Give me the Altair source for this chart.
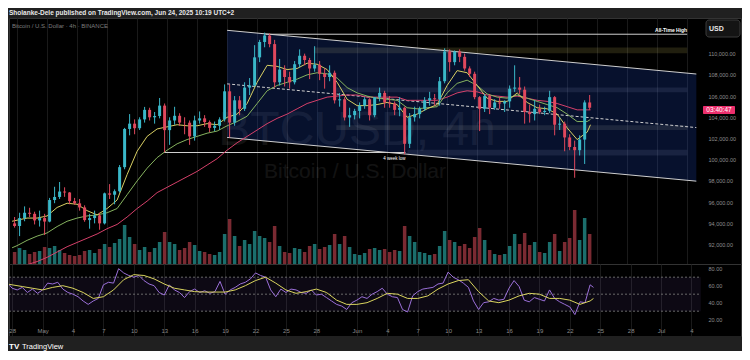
import altair as alt
import numpy as np
import pandas as pd

# ---------------- data ----------------
# 12-hour candles starting 2025-04-27 12:00 UTC
opens = [94000,93750,94500,95000,94900,94280,94500,94170,96200,96490,
         97000,96910,96100,95890,95500,94310,94500,94750,94000,96830,
         96700,97030,99300,102900,103400,102970,103800,104700,104000,104120,
         105100,102790,103700,104140,103500,103490,102200,103700,103900,103550,
         103000,103200,103800,106450,103500,105600,104800,106800,107000,109650,
         111100,111700,110900,107300,108500,107800,107300,109000,109800,109400,
         108600,108950,108100,107800,108200,105600,105700,103980,104200,104600,
         105100,105700,104200,105880,106300,105400,105300,104700,104900,101500,
         104000,104300,104800,105600,105800,105700,107400,110200,109200,110200,
         109700,108600,108100,105900,104800,106000,104900,105400,105300,105500,
         106700,106800,106600,104500,104300,104800,104500,104600,105900,103300,
         103400,102100,101200,100900,101900,105400]
highs = [94600,95000,95600,95470,95100,95200,94900,96400,97450,97900,
         97400,96950,96400,96300,95700,94900,95200,95000,96900,97700,
         97200,99500,103000,104300,103800,104000,104980,104900,104500,105820,
         105300,104000,104990,104380,104000,103700,104150,104550,104200,103700,
         103600,104000,107100,107100,106000,106000,107300,107700,110800,111300,
         111980,111900,111300,109500,108900,108300,109300,110400,110000,109600,
         110700,109300,108600,108900,108400,106300,105900,104900,104800,105400,
         105900,105800,105900,106800,106500,106000,105500,105900,105000,104400,
         105000,105000,105900,106400,106200,107800,110500,110400,110300,110400,
         110000,108800,108300,106000,106200,106200,105700,105900,105600,107000,
         108900,107800,106900,105200,105600,105200,105000,106500,106000,104000,
         103600,102400,101800,102300,105600,106100]
lows = [93600,92800,94200,94600,93900,93700,92900,94100,95900,96300,
        96500,95800,95750,95200,94150,93500,94000,93400,93900,96300,
        95800,96900,99100,102300,102400,102800,103500,103700,103400,103900,
        100700,101400,103300,103200,102400,101400,101800,103400,103100,102600,
        102700,102800,103600,102100,103200,104200,104600,106100,106900,109200,
        110600,110600,106800,107000,106900,106700,107100,108700,108900,107600,
        108300,107500,106700,107400,105300,105000,103700,103100,103800,103900,
        104800,103700,104000,105500,104900,104900,104200,104100,100500,101100,
        103600,103900,104600,105100,105100,105100,107200,108300,108900,109200,
        108400,107800,105700,102700,104500,104300,104700,104800,104500,104900,
        106400,106200,103400,103500,103700,104300,104200,104400,102300,102800,
        100800,100900,98300,100400,99600,104700]
closes = [93750,94500,95000,94900,94280,94500,94170,96200,96490,97000,
          96910,96100,95890,95500,94310,94500,94750,94000,96830,96700,
          97030,99300,102900,103400,102970,103800,104700,104000,104120,105100,
          102790,103700,104140,103500,103490,102200,103700,103900,103550,103000,
          103200,103800,106450,103500,105600,104800,106800,107000,109650,111100,
          111700,110900,107300,108500,107800,107300,109000,109800,109400,108600,
          108950,108100,107800,108200,105600,105700,103980,104200,104600,105100,
          105700,104200,105880,106300,105400,105300,104700,104900,101500,104000,
          104300,104800,105600,105800,105700,107400,110200,109200,110200,109700,
          108600,108100,105900,104800,106000,104900,105400,105300,105500,106700,
          106800,106600,104500,104300,104800,104500,104600,105900,103300,103400,
          102100,101200,100900,101900,105400,104900]
# relative volume (bar height as seen)
volumes = [12,16,14,10,12,13,17,16,18,14,
           11,9,8,9,13,14,11,15,20,17,
           21,25,39,27,20,14,17,12,16,22,
           32,22,20,14,16,22,19,13,12,10,
           9,12,30,45,28,18,24,20,33,28,
           26,22,38,18,12,11,16,15,12,18,
           20,15,17,19,30,20,28,17,10,9,
           11,15,16,14,15,12,14,13,38,28,
           22,12,11,9,10,18,33,24,22,18,
           20,16,27,36,24,14,10,9,10,18,
           30,20,31,19,22,12,11,22,30,13,
           22,26,54,24,46,30]
# RSI at each 12h step, plus the live bar
rsi_values = [64,57,55,58,52,56,51,55,63,62,
              64,56,52,50,47,42,38,42,45,61,
              64,63,80,75,72,70,72,66,62,60,
              52,49,61,55,52,46,53,56,52,54,
              51,53,65,50,55,58,62,64,68,75,
              72,70,55,47,56,52,56,55,52,51,
              55,49,50,46,42,38,36,32,40,43,
              47,45,50,53,57,50,47,46,32,29,
              48,53,56,57,58,62,63,76,70,67,
              63,58,42,32,40,41,45,43,44,57,
              66,59,43,41,46,44,42,55,45,41,
              38,35,26,41,40,61,58]
# daily samples: Apr 27 12h, Apr 28 .. Jun 24, Jun 24 08h
ema_fast = [94200,94300,94500,94500,
            94700,95500,95900,95800,95200,94800,95400,96200,98600,100800,
            102200,102900,103100,103300,103200,103200,103400,103300,104000,104300,
            105300,107300,108900,108800,108500,108600,109100,109000,108500,107300,105700,
            105100,105100,105200,105400,105200,104000,104300,104800,105200,107000,
            108400,108200,107000,105800,105500,105500,106300,105400,104900,104800,
            104300,103000,101900,102600,103300]
ema_mid = [91700,91900,92400,92800,
           93100,93700,94200,94500,94700,94800,95000,95400,96700,98000,
           99200,100200,100900,101500,101900,102200,102500,102700,103200,103600,
           104100,105300,106500,107000,107300,107600,108000,108200,108100,107700,106800,
           106300,106000,105800,105700,105600,104900,104800,104900,105000,106300,
           107200,107500,107000,106200,105900,105800,106100,105800,105500,105200,
           104900,104300,103600,103600,103800]
ema_slow = [89600,89800,90100,90400,
            90800,91300,91800,92200,92600,93000,93500,93900,94600,95400,
            96100,96900,97400,97900,98400,98900,99500,100100,100900,101600,
            102200,102800,103400,103900,104300,104800,105300,105600,105900,106000,106100,
            106100,105900,105900,105900,105900,105600,105600,105600,105600,105900,
            106300,106500,106400,106100,106000,105900,106000,105800,105600,105500,
            105300,105000,104700,104700,104700]
rsi_ma = [62,61,59,57,
          55,58,60,57,52,45,47,55,67,73,
          72,68,62,57,55,53,52.5,52.5,52.5,55,
          60,66,70,63,55,51,53,56,52,43,38,
          38,40,45,51,50,45,45,48,56,62,
          66,67,53,42,40,43,48,51,50,45,
          45,43,38,42,45]

price_ticks = [92000, 94000, 96000, 98000, 100000, 102000, 104000, 106000, 108000, 110000]
rsi_ticks = [20, 40, 60, 80]
tick_dates = ["2025-04-28", "2025-05-01", "2025-05-04", "2025-05-07", "2025-05-10", "2025-05-13",
              "2025-05-16", "2025-05-19", "2025-05-22", "2025-05-25", "2025-05-28", "2025-06-01",
              "2025-06-04", "2025-06-07", "2025-06-10", "2025-06-13", "2025-06-16", "2025-06-19",
              "2025-06-22", "2025-06-25", "2025-06-28", "2025-07-01", "2025-07-04"]

# drawings
channel_t = ["2025-05-19T00:00:00Z", "2025-07-04T22:00:00Z"]
channel_upper = [112200, 108080]
channel_lower = [102100, 97980]
channel_mid = [107150, 103030]
ath_t = ["2025-05-22T20:00:00Z", "2025-07-04T00:00:00Z"]
ath_price = 111830
low_t = ["2025-05-12T16:00:00Z", "2025-06-05T20:00:00Z"]
low_price = 100680
zone_start = ["2025-05-27T16:00:00Z", "2025-05-29T22:00:00Z", "2025-05-29T22:00:00Z", "2025-06-06T01:00:00Z"]
zone_end = ["2025-07-04T00:00:00Z"] * 4
zone_low = [110030, 106350, 102800, 100400]
zone_high = [110570, 106820, 103250, 100940]
zone_color = ["#fff176", "#b2b5be", "#d6d3a0", "#b2b5be"]

# ---------------- helpers ----------------
BG = "#202020"
UP, DOWN = "#3ab8c9", "#e0485d"
VUP, VDOWN = "#1b6e6c", "#7a2a32"
W = 732

def iso(ts):
    return ts.strftime("%Y-%m-%dT%H:%M:%SZ")

def ms(s):
    return int(pd.Timestamp(s).value // 10**6)

X0, X1 = "2025-04-27T16:34:00Z", "2025-07-08T21:10:00Z"
xs = alt.Scale(type="utc", domain=[ms(X0), ms(X1)])
tick_ms = [ms(d + "T00:00:00Z") for d in tick_dates]

xax_price = alt.Axis(values=tick_ms, labels=False, ticks=False, domain=False, grid=True,
                     gridColor="#1a1a1a", gridWidth=1, title=None)
xax_rsi = alt.Axis(values=tick_ms, ticks=False, tickSize=0, domain=False, grid=True,
                   gridColor="#1a1a1a", gridWidth=1, title=None,
                   labelExpr="utcdate(datum.value) == 1 ? utcFormat(datum.value, '%b') : utcFormat(datum.value, '%-d')",
                   labelPadding=-6, labelBaseline="middle", labelColor="#8a8a8a", labelFontSize=6,
                   labelFlush=False, labelOverlap=False)
ys = alt.Scale(domain=[90170, 113360], zero=False, nice=False)
yax_price = alt.Axis(orient="right", values=price_ticks, format=",.2f", labelAlign="left",
                     labelPadding=-33, ticks=False, tickSize=0, domain=False, grid=False,
                     title=None, labelColor="#8e8e8e", labelFontSize=5.5)
rs = alt.Scale(domain=[0.8, 85.5], zero=False, nice=False)
yax_rsi = alt.Axis(orient="right", values=rsi_ticks, format=".2f", labelAlign="left",
                   labelPadding=-33, ticks=False, tickSize=0, domain=False, grid=False,
                   title=None, labelColor="#8e8e8e", labelFontSize=5.5)

def X(f):
    return alt.X(f + ":T", scale=xs, axis=xax_price)

def XR(f):
    return alt.X(f + ":T", scale=xs, axis=xax_rsi)

def YP(f):
    return alt.Y(f + ":Q", scale=ys, axis=yax_price)

def YR(f):
    return alt.Y(f + ":Q", scale=rs, axis=yax_rsi)

one = pd.DataFrame({"a": [0]})

# ---------------- tables ----------------
t0 = pd.Timestamp("2025-04-27 12:00", tz="UTC")
n = len(opens)
cd = pd.DataFrame({
    "t": [iso(t0 + pd.Timedelta(hours=12 * i + 6)) for i in range(n)],
    "o": opens, "h": highs, "l": lows, "c": closes, "v": volumes,
})
up = np.array(closes) >= np.array(opens)
cd["col"] = np.where(up, UP, DOWN)
cd["vcol"] = np.where(up, VUP, VDOWN)

last_t = pd.Timestamp("2025-06-24 08:00", tz="UTC")
daily_t = [t0] + list(pd.date_range("2025-04-28", "2025-06-24", freq="D", tz="UTC")) + [last_t]
daily_iso = [iso(t) for t in daily_t]
ema_df = pd.concat([
    pd.DataFrame({"t": daily_iso, "p": ema_slow, "col": "#d6406a", "k": "slow"}),
    pd.DataFrame({"t": daily_iso, "p": ema_mid, "col": "#86b35f", "k": "mid"}),
    pd.DataFrame({"t": daily_iso, "p": ema_fast, "col": "#d8cf63", "k": "fast"}),
])
rsi_t = [iso(t0 + pd.Timedelta(hours=12 * i)) for i in range(n)] + [iso(last_t)]
rsi_df = pd.DataFrame({"t": rsi_t, "r": rsi_values})
rsima_df = pd.DataFrame({"t": daily_iso, "r": rsi_ma})

zones_df = pd.DataFrame({"t": zone_start, "t2": zone_end, "p": zone_low, "p2": zone_high, "col": zone_color})
chan_df = pd.DataFrame({"t": channel_t, "p": channel_upper, "p2": channel_lower})
lines_df = pd.concat([
    pd.DataFrame({"t": channel_t, "p": channel_upper, "k": "u"}),
    pd.DataFrame({"t": channel_t, "p": channel_lower, "k": "l"}),
    pd.DataFrame({"t": ath_t, "p": [ath_price] * 2, "k": "ath"}),
    pd.DataFrame({"t": low_t, "p": [low_price] * 2, "k": "low"}),
])
mid_df = pd.DataFrame({"t": channel_t, "p": channel_mid})

# ---------------- price pane ----------------
wm1 = alt.Chart(one).mark_text(text="BTCUSD, 4h", fontSize=48, color="#ffffff", opacity=0.07,
                               align="center", baseline="alphabetic").encode(x=alt.value(348), y=alt.value(127))
wm2 = alt.Chart(one).mark_text(text="Bitcoin / U.S. Dollar", fontSize=21, color="#ffffff", opacity=0.07,
                               align="center", baseline="alphabetic").encode(x=alt.value(346), y=alt.value(160))
zones = alt.Chart(zones_df).mark_rect(opacity=0.13).encode(
    x=X("t"), x2="t2", y=YP("p"), y2="p2", color=alt.Color("col:N", scale=None))
chan = alt.Chart(chan_df).mark_area(color="#2455e0", opacity=0.2).encode(x=X("t"), y=YP("p"), y2="p2")
lines = alt.Chart(lines_df).mark_line(color="#cfcfcf", strokeWidth=1).encode(x=X("t"), y=YP("p"), detail="k:N")
mid = alt.Chart(mid_df).mark_line(color="#cfcfcf", strokeWidth=1, strokeDash=[3, 2]).encode(x=X("t"), y=YP("p"))
emas = alt.Chart(ema_df).mark_line(strokeWidth=1, clip=True).encode(
    x=X("t"), y=YP("p"), color=alt.Color("col:N", scale=None), detail="k:N")
wicks = alt.Chart(cd).mark_rule(strokeWidth=1, clip=True).encode(
    x=X("t"), y=YP("l"), y2="h", color=alt.Color("col:N", scale=None))
bodies = alt.Chart(cd).mark_bar(size=3, clip=True).encode(
    x=X("t"), y=YP("o"), y2="c", color=alt.Color("col:N", scale=None))
ath_lbl = alt.Chart(pd.DataFrame({"t": [ath_t[1]], "p": [ath_price]})).mark_text(
    text="All-Time High", align="right", baseline="bottom", dy=-1, fontSize=5, fontWeight="bold",
    color="#ffffff").encode(x=X("t"), y=YP("p"))
low_lbl = alt.Chart(pd.DataFrame({"t": [low_t[1]], "p": [low_price]})).mark_text(
    text="4 week low", align="right", baseline="top", dy=3, fontSize=4.5, color="#ffffff").encode(
    x=X("t"), y=YP("p"))
legend = alt.Chart(one).mark_text(text="Bitcoin / U.S. Dollar · 4h · BINANCE", align="left",
                                  baseline="middle", fontSize=6, color="#7d7d7d").encode(
    x=alt.value(3), y=alt.value(8))
usd_box = alt.Chart(one).mark_rect(fill="#141414", stroke="#3a3a3a", strokeWidth=1, cornerRadius=3).encode(
    x=alt.value(697), x2=alt.value(731), y=alt.value(2), y2=alt.value(19))
usd_txt = alt.Chart(one).mark_text(text="USD", align="left", baseline="middle", fontSize=7,
                                   fontWeight="bold", color="#e6e6e6").encode(x=alt.value(700), y=alt.value(10.5))
pink_box = alt.Chart(one).mark_rect(fill="#ec2f6d", cornerRadius=1).encode(
    x=alt.value(694), x2=alt.value(726), y=alt.value(88), y2=alt.value(96))
pink_txt = alt.Chart(one).mark_text(text="03:40:47", align="center", baseline="middle", fontSize=6.5,
                                    color="#ffffff").encode(x=alt.value(710), y=alt.value(92))

price_main = alt.layer(wm1, wm2, zones, chan, lines, mid, emas, wicks, bodies,
                       ath_lbl, low_lbl, legend, usd_box, usd_txt, pink_box, pink_txt)
vol = alt.Chart(cd).mark_bar(size=3.5, clip=True).encode(
    x=X("t"), y=alt.Y("v:Q", scale=alt.Scale(domain=[0, 246]), axis=None),
    color=alt.Color("vcol:N", scale=None))
price_pane = alt.layer(vol, price_main).resolve_scale(y="independent").properties(
    width=W, height=246, view=alt.ViewBackground(fill="#000000", stroke="#333333", strokeWidth=1))

# ---------------- RSI pane ----------------
band = alt.Chart(pd.DataFrame({"t": [X0], "t2": [channel_t[1]], "r": [30], "r2": [70]})).mark_rect(
    color="#7e57c2", opacity=0.1).encode(x=XR("t"), x2="t2", y=YR("r"), y2="r2")
levels = alt.Chart(pd.DataFrame({"t": [X0] * 3, "t2": [channel_t[1]] * 3, "r": [70, 50, 30]})).mark_rule(
    color="#6a6a6a", strokeWidth=1, strokeDash=[2, 2]).encode(x=XR("t"), x2="t2", y=YR("r"))
rsi_line = alt.Chart(rsi_df).mark_line(color="#9a6fd8", strokeWidth=1, clip=True).encode(x=XR("t"), y=YR("r"))
rsi_ma_line = alt.Chart(rsima_df).mark_line(color="#d9d45e", strokeWidth=1, clip=True).encode(x=XR("t"), y=YR("r"))
rsi_pane = alt.layer(band, levels, rsi_line, rsi_ma_line).properties(
    width=W, height=72, view=alt.ViewBackground(fill="#000000", stroke="#333333", strokeWidth=1))

# ---------------- header / footer ----------------
header = alt.Chart(one).mark_text(
    text="Sholanke-Dele published on TradingView.com, Jun 24, 2025 10:19 UTC+2",
    align="left", baseline="alphabetic", fontSize=6.5, fontWeight="bold", color="#e8e8e8").encode(
    x=alt.value(0), y=alt.value(7)).properties(width=W, height=10, view=alt.ViewBackground(fill=BG, stroke=None))
logo = alt.Chart(one).mark_text(text="TV", align="left", baseline="alphabetic", fontSize=8,
                                fontWeight=900, color="#ffffff").encode(x=alt.value(0), y=alt.value(13))
brand = alt.Chart(one).mark_text(text="TradingView", align="left", baseline="alphabetic", fontSize=7.5,
                                 color="#ffffff").encode(x=alt.value(13), y=alt.value(13))
footer = alt.layer(logo, brand).properties(width=W, height=14, view=alt.ViewBackground(fill=BG, stroke=None))

chart = alt.vconcat(header, price_pane, rsi_pane, footer, spacing=0, bounds="flush").properties(
    background=BG, padding=0
).configure(font="Liberation Sans")

chart.save("out.html", embed_options={"renderer": "svg", "actions": False})
